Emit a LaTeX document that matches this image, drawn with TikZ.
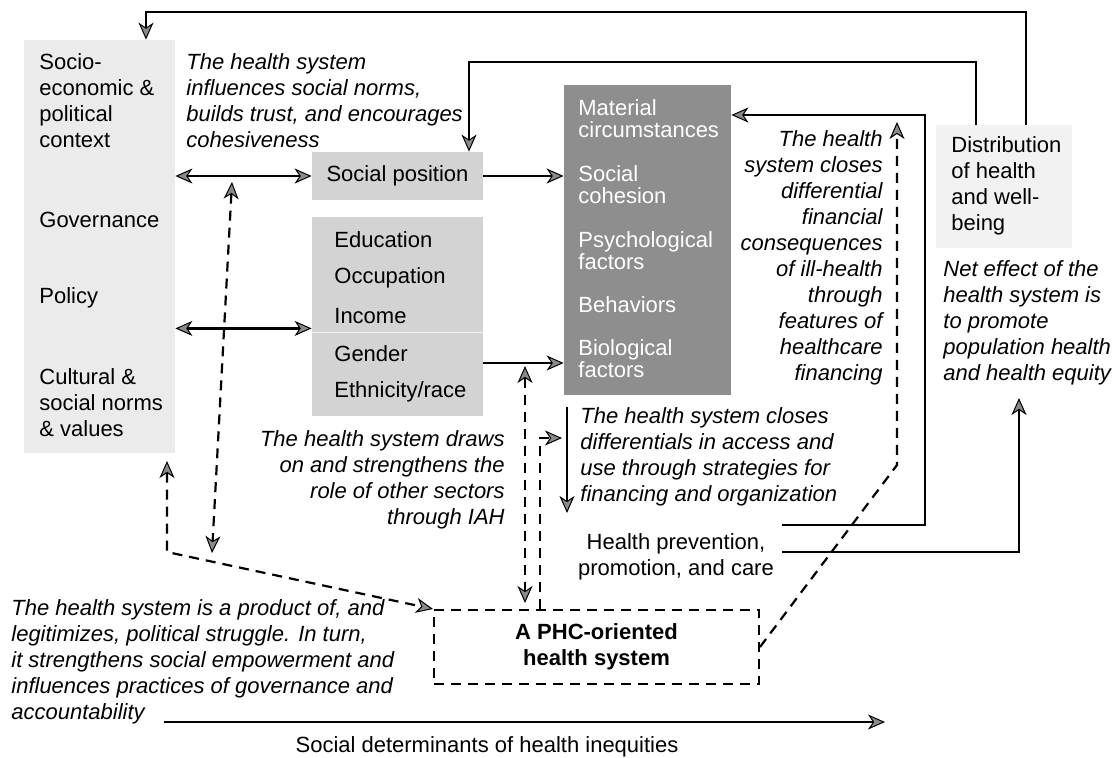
\documentclass[tikz,border=0pt]{standalone}
\usepackage{fontspec}
\setmainfont{Liberation Sans}
\usetikzlibrary{arrows.meta, positioning, fit}
\definecolor{PaleGray}{HTML}{EBEBEB}
\definecolor{MidGray}{HTML}{D3D3D3}
\definecolor{DarkGray}{HTML}{8E8E8E}
\definecolor{FaintGray}{HTML}{F2F2F2}
\definecolor{TipGray}{HTML}{8A8A8A}
\tikzset{
  % Box styles
  ctxbox/.style={rectangle, fill=PaleGray, inner sep=0pt},
  detbox/.style={rectangle, fill=MidGray, inner sep=0pt},
  intbox/.style={rectangle, fill=DarkGray, inner sep=0pt},
  distbox/.style={rectangle, fill=FaintGray, inner sep=0pt},
  phcbox/.style={rectangle, draw, line width=1pt, dash pattern=on 5pt off 3.5pt, inner sep=0pt},
  % Text styles
  plaintext/.style={font=\fontsize{11}{13}\selectfont, inner sep=0pt, align=left},
  note/.style={font=\fontsize{11}{13}\selectfont\itshape, inner sep=0pt, align=left},
  inttext/.style={font=\fontsize{11}{11}\selectfont, text=white, inner sep=0pt, align=left},
  % Arrow styles
  arrow/.style={-{Stealth[length=8.5pt, width=7.5pt, inset=2.5pt, line width=0.5pt, fill=TipGray]}, line width=1.1pt},
  dblarrow/.style={{Stealth[length=8.5pt, width=7.5pt, inset=2.5pt, line width=0.5pt, fill=TipGray]}-{Stealth[length=8.5pt, width=7.5pt, inset=2.5pt, line width=0.5pt, fill=TipGray]}, line width=1.1pt},
  dasharrow/.style={arrow, dash pattern=on 5pt off 3.5pt},
  dbldash/.style={dblarrow, dash pattern=on 5pt off 3.5pt}
}

\begin{document}
\begin{tikzpicture}[x=0.5pt, y=-0.5pt]
  \path[use as bounding box, fill=white] (0,0) rectangle (1115,757);

  % Context
  \node[ctxbox, fit={(24,40)(175,453)}] (ctx) {};
  \node[plaintext, anchor=west] (socio) at (39,101) {Socio-\\economic \&\\political\\context};
  \node[plaintext, anchor=west] (gov) at (39,220) {Governance};
  \node[plaintext, anchor=west] (pol) at (39,298) {Policy};
  \node[plaintext, anchor=west] (cult) at (39,403) {Cultural \&\\social norms\\\& values};

  \node[note, anchor=west] (trust) at (186,101) {The health system\\influences social norms,\\builds trust, and encourages\\cohesiveness};

  % Social position
  \node[detbox, fit={(312,152)(483,200)}] (pos) {};
  \node[plaintext] (postxt) at (pos) {Social position};

  \node[detbox, fit={(312,217)(483,332)}] (sesa) {};
  \node[detbox, fit={(312,332)(483,416)}] (sesb) {};
  \draw[FaintGray, line width=0.8pt] (sesa.south west) -- (sesa.south east);
  \foreach \y/\txt [count=\i] in {240/Education, 278/Occupation, 316/Income, 354/Gender, 392/{Ethnicity/race}} {
    \node[plaintext, anchor=west] (ses\i) at (334,\y) {\txt};
  }

  % Intermediary factors
  \node[intbox, fit={(564,85)(731,395)}] (inter) {};
  \foreach \y/\txt [count=\i] in {119/{Material\\circumstances}, 185/{Social\\cohesion}, 251/{Psychological\\factors}, 305/{Behaviors}, 359/{Biological\\factors}} {
    \node[inttext, anchor=west] (int\i) at (578,\y) {\txt};
  }

  % Distribution
  \node[distbox, fit={(936,125)(1072,248)}] (dist) {};
  \node[plaintext, anchor=west] (disttxt) at (951,186) {Distribution\\of health\\and well-\\being};
  \node[note, anchor=west] (net) at (943,323) {Net effect of the\\health system is\\to promote\\population health\\and health equity};

  \node[note, align=right, anchor=east] (fin) at (883,258) {The health\\system closes\\differential\\financial\\consequences\\of ill-health\\through\\features of\\healthcare\\financing};
  \node[note, anchor=west] (acc) at (580,457) {The health system closes\\differentials in access and\\use through strategies for\\financing and organization};
  \node[plaintext, align=center] (care) at (676,557) {Health prevention,\\promotion, and care};
  \node[note, align=right, anchor=east] (iah) at (505,480) {The health system draws\\on and strengthens the\\role of other sectors\\through IAH};

  % Health system
  \node[phcbox, fit={(434,610)(759,684)}] (phc) {};
  \node[plaintext, font=\fontsize{11}{13}\selectfont\bfseries, align=center] (phctxt) at (phc) {A PHC-oriented\\health system};
  \node[note, anchor=west] (struggle) at (11,662) {The health system is a product of, and\\legitimizes, political struggle. In turn,\\it strengthens social empowerment and\\influences practices of governance and\\accountability};
  \node[plaintext] (sdh) at (487,747) {Social determinants of health inequities};

  % Feedback loops
  \coordinate (fbA) at (1026,12);
  \coordinate (fbB) at (146,12);
  \draw[arrow] (dist.north -| fbA) -- (fbA) -- (fbB) -- (ctx.north -| fbB);
  \coordinate (fbC) at (976,62);
  \coordinate (fbD) at (469,62);
  \draw[arrow] (dist.north -| fbC) -- (fbC) -- (fbD) -- (pos.north -| fbD);

  % Solid connections
  \draw[dblarrow] (ctx.east |- pos.west) -- (pos.west);
  \draw[dblarrow] ([yshift=2pt]ctx.east |- sesa.south west) -- ([yshift=2pt]sesa.south west);
  \draw[arrow] (pos.east) -- (pos.east -| inter.west);
  \draw[arrow] ([yshift=5.5pt]sesb.east) -- ([yshift=5.5pt]sesb.east -| inter.west);
  \coordinate (careA) at (782,525);
  \coordinate (careB) at (925,525);
  \draw[arrow] (careA) -- (careB) |- ([yshift=62.5pt]inter.east);
  \coordinate (careC) at (782,552);
  \coordinate (careD) at (1019,552);
  \coordinate (careE) at (1019,398);
  \draw[arrow] (careC) -- (careD) -- (careE);
  \coordinate (accT) at (567,407);
  \coordinate (accB) at (567,513);
  \draw[arrow] (accT) -- (accB);
  \coordinate (sdhL) at (164,722);
  \coordinate (sdhR) at (885,722);
  \draw[arrow] (sdhL) -- (sdhR);

  % Dashed connections
  \coordinate (polT) at (167,461);
  \coordinate (polK) at (167,552);
  \draw[dbldash] (polT) -- (polK) -- (phc.north west);
  \coordinate (trT) at (232,182);
  \coordinate (trB) at (212,553);
  \draw[dbldash] (trT) -- (trB);
  \coordinate (iahT) at (525,366);
  \coordinate (iahB) at (525,603);
  \draw[dbldash] (iahT) -- (iahB);
  \coordinate (accK) at (540,438);
  \coordinate (accR) at (562,438);
  \draw[dasharrow] (phc.north -| accK) -- (accK) -- (accR);
  \coordinate (finK) at (897,465);
  \coordinate (finT) at (897,122);
  \draw[dasharrow] (phc.east) -- (finK) -- (finT);
\end{tikzpicture}
\end{document}
